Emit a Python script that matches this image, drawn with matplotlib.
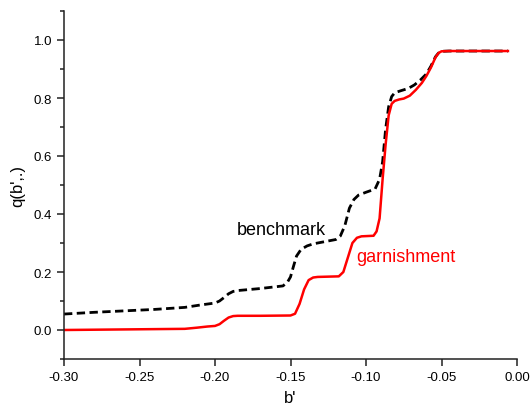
import matplotlib
matplotlib.use("Agg")
import matplotlib.pyplot as plt
from matplotlib.ticker import MultipleLocator

plt.rcParams["font.family"] = ["Liberation Sans", "DejaVu Sans"]

# garnishment (red, solid)
garn_x = [-0.300, -0.280, -0.260, -0.240, -0.220, -0.212, -0.205, -0.200,
          -0.197, -0.194, -0.191, -0.188, -0.185, -0.170, -0.150, -0.147,
          -0.144, -0.141, -0.138, -0.135, -0.132, -0.125, -0.118, -0.115,
          -0.112, -0.109, -0.106, -0.103, -0.095, -0.093, -0.091, -0.089,
          -0.087, -0.085, -0.083, -0.081, -0.078, -0.075, -0.071, -0.067,
          -0.063, -0.060, -0.057, -0.054, -0.052, -0.050, -0.045, -0.030,
          -0.006]
garn_y = [0.000, 0.001, 0.002, 0.003, 0.004, 0.008, 0.012, 0.014,
          0.020, 0.032, 0.043, 0.048, 0.049, 0.049, 0.050, 0.056,
          0.090, 0.140, 0.172, 0.181, 0.183, 0.184, 0.185, 0.200,
          0.250, 0.300, 0.318, 0.323, 0.325, 0.340, 0.385, 0.520,
          0.640, 0.740, 0.780, 0.790, 0.795, 0.798, 0.808, 0.828,
          0.852, 0.876, 0.905, 0.940, 0.955, 0.961, 0.962, 0.962,
          0.962]

# benchmark (black, dashed)
bench_x = [-0.300, -0.280, -0.260, -0.240, -0.220, -0.210, -0.200, -0.197,
           -0.194, -0.191, -0.188, -0.185, -0.170, -0.155, -0.152, -0.150,
           -0.148, -0.146, -0.143, -0.139, -0.135, -0.128, -0.120, -0.117,
           -0.114, -0.111, -0.108, -0.105, -0.100, -0.094, -0.091, -0.089,
           -0.087, -0.085, -0.083, -0.081, -0.077, -0.072, -0.068, -0.064,
           -0.060, -0.057, -0.054, -0.052, -0.050, -0.045, -0.030, -0.006]
bench_y = [0.055, 0.061, 0.066, 0.071, 0.078, 0.086, 0.093, 0.100,
           0.112, 0.125, 0.133, 0.136, 0.143, 0.152, 0.165, 0.183,
           0.220, 0.255, 0.278, 0.290, 0.297, 0.304, 0.312, 0.324,
           0.360, 0.420, 0.450, 0.465, 0.475, 0.486, 0.520, 0.580,
           0.693, 0.770, 0.805, 0.818, 0.825, 0.833, 0.845, 0.862,
           0.883, 0.910, 0.942, 0.955, 0.961, 0.962, 0.962, 0.962]

fig = plt.figure(figsize=(5.31, 4.10), dpi=100)
ax = fig.add_axes([64 / 531, 50 / 410, 453 / 531, 348 / 410])

ax.plot(bench_x, bench_y, color="black", lw=2.0, ls=(0, (3, 1.6)))
ax.plot(garn_x, garn_y, color="red", lw=1.8)

ax.text(-0.1563, 0.348, "benchmark", color="black", fontsize=13,
        ha="center", va="center")
ax.text(-0.0735, 0.252, "garnishment", color="red", fontsize=13,
        ha="center", va="center")

ax.set_xlim(-0.30, 0.00)
ax.set_ylim(-0.1, 1.1)
ax.xaxis.set_major_locator(MultipleLocator(0.05))
ax.yaxis.set_major_locator(MultipleLocator(0.2))
ax.yaxis.set_minor_locator(MultipleLocator(0.1))
ax.xaxis.set_major_formatter(plt.FuncFormatter(lambda v, p: f"{v:.2f}"))
ax.yaxis.set_major_formatter(plt.FuncFormatter(lambda v, p: f"{v:.1f}"))

for s in ["top", "right"]:
    ax.spines[s].set_visible(False)
for s in ["left", "bottom"]:
    ax.spines[s].set_linewidth(1.1)
    ax.spines[s].set_color("#222222")

ax.tick_params(which="major", direction="out", length=5, width=1.1,
               labelsize=9.5, color="#222222")
ax.tick_params(which="minor", direction="out", length=3, width=1.1,
               color="#222222")

ax.set_xlabel("b'", fontsize=12, labelpad=5)
ax.set_ylabel("q(b',.)", fontsize=12, labelpad=6)

fig.savefig("out.png", dpi=100)
